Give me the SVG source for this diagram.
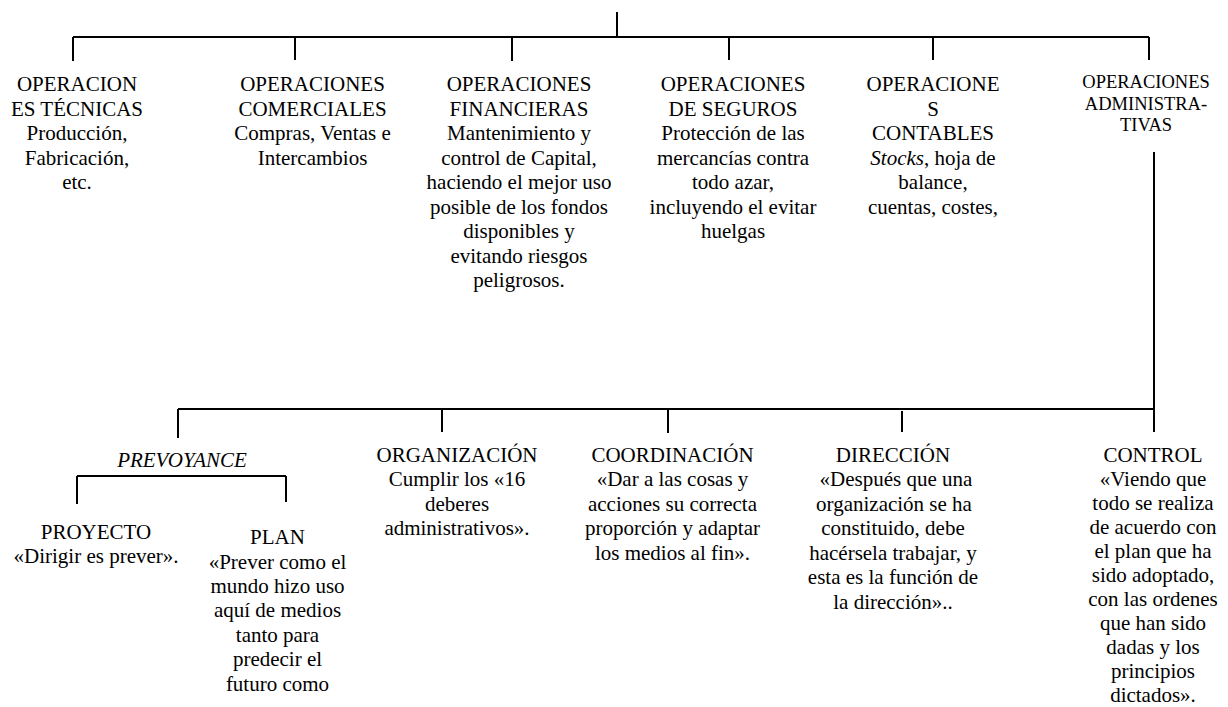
<svg xmlns="http://www.w3.org/2000/svg" width="1228" height="707" viewBox="0 0 1228 707">
<style>
text{font-family:'Liberation Serif','Tinos','DejaVu Serif',serif;font-size:21px;fill:#000;text-anchor:middle}
.sm{font-size:18.5px}
.it{font-style:italic}
.ln{stroke:#000;stroke-width:2;fill:none}
</style>
<rect width="1228" height="707" fill="#fff"/>
<g id="connectors">
<path class="ln" d="M617 12V37M73 37H1149M73 37V61M295 37V60M512 37V61M729 37V60M933 37V60M1149 37V60"/>
<path class="ln" d="M1154 152V432M178 409H1154M178 409V438M442 409V432M668 409V433M902 411V432"/>
<path class="ln" d="M77 476H286M77 476V504M286 476V502"/>
</g>
<g id="tecnicas">
<text x="77" y="91">OPERACION</text>
<text x="77" y="115.5">ES TÉCNICAS</text>
<text x="77" y="140">Producción,</text>
<text x="77" y="164.5">Fabricación,</text>
<text x="77" y="189">etc.</text>
</g>
<g id="comerciales">
<text x="312.5" y="91">OPERACIONES</text>
<text x="312.5" y="115.5">COMERCIALES</text>
<text x="312.5" y="140">Compras, Ventas e</text>
<text x="312.5" y="164.5">Intercambios</text>
</g>
<g id="financieras">
<text x="519" y="91">OPERACIONES</text>
<text x="519" y="115.5">FINANCIERAS</text>
<text x="519" y="140">Mantenimiento y</text>
<text x="519" y="164.5">control de Capital,</text>
<text x="519" y="189">haciendo el mejor uso</text>
<text x="519" y="213.5">posible de los fondos</text>
<text x="519" y="238">disponibles y</text>
<text x="519" y="262.5">evitando riesgos</text>
<text x="519" y="287">peligrosos.</text>
</g>
<g id="seguros">
<text x="733" y="91">OPERACIONES</text>
<text x="733" y="115.5">DE SEGUROS</text>
<text x="733" y="140">Protección de las</text>
<text x="733" y="164.5">mercancías contra</text>
<text x="733" y="189">todo azar,</text>
<text x="733" y="213.5">incluyendo el evitar</text>
<text x="733" y="238">huelgas</text>
</g>
<g id="contables">
<text x="933" y="91">OPERACIONE</text>
<text x="933" y="115.5">S</text>
<text x="933" y="140">CONTABLES</text>
<text x="933" y="164.5"><tspan class="it">Stocks</tspan>, hoja de</text>
<text x="933" y="189">balance,</text>
<text x="933" y="213.5">cuentas, costes,</text>
</g>
<g id="administrativas">
<text class="sm" x="1146" y="87.5">OPERACIONES</text>
<text class="sm" x="1146" y="109.5">ADMINISTRA-</text>
<text class="sm" x="1146" y="131">TIVAS</text>
</g>
<g id="prevoyance">
<text class="it" x="182" y="467">PREVOYANCE</text>
</g>
<g id="proyecto">
<text x="96" y="539">PROYECTO</text>
<text x="96" y="563">«Dirigir es prever».</text>
</g>
<g id="plan">
<text x="277.5" y="544">PLAN</text>
<text x="277.5" y="568.5">«Prever como el</text>
<text x="277.5" y="593">mundo hizo uso</text>
<text x="277.5" y="617">aquí de medios</text>
<text x="277.5" y="641.5">tanto para</text>
<text x="277.5" y="666">predecir el</text>
<text x="277.5" y="690.5">futuro como</text>
</g>
<g id="organizacion">
<text x="457" y="461.7">ORGANIZACIÓN</text>
<text x="457" y="486">Cumplir los «16</text>
<text x="457" y="510.5">deberes</text>
<text x="457" y="535">administrativos».</text>
</g>
<g id="coordinacion">
<text x="672.5" y="461.7">COORDINACIÓN</text>
<text x="672.5" y="486">«Dar a las cosas y</text>
<text x="672.5" y="510.5">acciones su correcta</text>
<text x="672.5" y="535">proporción y adaptar</text>
<text x="672.5" y="559.5">los medios al fin».</text>
</g>
<g id="direccion">
<text x="893" y="461.7">DIRECCIÓN</text>
<text x="896" y="486">«Después que una</text>
<text x="894" y="510.5">organización se ha</text>
<text x="893" y="535">constituido, debe</text>
<text x="893" y="559.5">hacérsela trabajar, y</text>
<text x="893" y="584">esta es la función de</text>
<text x="893" y="608.5">la dirección»..</text>
</g>
<g id="control">
<text x="1153" y="461.7">CONTROL</text>
<text x="1153" y="485.7">«Viendo que</text>
<text x="1153" y="509.7">todo se realiza</text>
<text x="1153" y="533.7">de acuerdo con</text>
<text x="1153" y="557.7">el plan que ha</text>
<text x="1153" y="581.7">sido adoptado,</text>
<text x="1153" y="605.7">con las ordenes</text>
<text x="1153" y="629.7">que han sido</text>
<text x="1153" y="653.7">dadas y los</text>
<text x="1153" y="677.7">principios</text>
<text x="1153" y="701.7">dictados».</text>
</g>
</svg>
